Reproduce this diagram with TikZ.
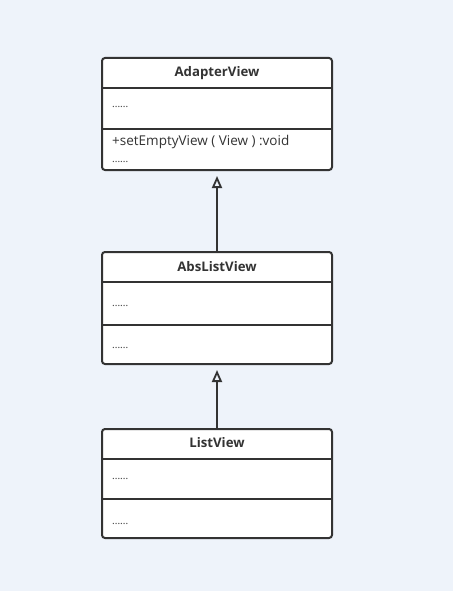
\documentclass[tikz,border=0pt]{standalone}
\usepackage{fontspec}
\setmainfont{Open Sans}
\usetikzlibrary{arrows.meta}
\definecolor{bg}{HTML}{EEF3FA}
\definecolor{ink}{HTML}{333333}
\begin{document}
\begin{tikzpicture}[x=1pt,y=-1pt,
  umlbox/.style={draw=ink,fill=white,line width=2pt,rounded corners=3pt,minimum width=230pt,inner sep=0pt},
  divider/.style={draw=ink,line width=2pt},
  title/.style={font=\fontsize{13.2}{15}\selectfont\bfseries,text=ink},
  member/.style={font=\fontsize{13.5}{15}\selectfont,text=ink,anchor=west,inner sep=0pt},
  dots/.style={font=\fontsize{10}{11}\selectfont,text=ink,anchor=base west,inner sep=0pt},
  inherit/.style={draw=ink,line width=2pt,-{Triangle[open,width=10pt,length=12pt,line width=1.8pt]},shorten >=5pt}]
\useasboundingbox[fill=bg] (0,0) rectangle (453,591);
% AdapterView
\node[umlbox,minimum height=112pt] (a) at (217,114) {};
\draw[divider] (102,88) -- (332,88);
\draw[divider] (102,129) -- (332,129);
\node[title] (at) at (217,73) {AdapterView};
\node[dots] (a1) at (112,107) {......};
\node[member] (a2) at (112,142) {+setEmptyView ( View ) :void};
\node[dots] (a3) at (112,162) {......};
% AbsListView
\node[umlbox,minimum height=112pt] (b) at (217,308) {};
\draw[divider] (102,282) -- (332,282);
\draw[divider] (102,325) -- (332,325);
\node[title] (bt) at (217,267) {AbsListView};
\node[dots] (b1) at (112,306) {......};
\node[dots] (b2) at (112,348) {......};
% ListView
\node[umlbox,minimum height=109pt] (c) at (217,483.5) {};
\draw[divider] (102,459) -- (332,459);
\draw[divider] (102,499) -- (332,499);
\node[title] (ct) at (217,443) {ListView};
\node[dots] (c1) at (112,479) {......};
\node[dots] (c2) at (112,524) {......};
% inheritance
\draw[inherit] (b.north) -- (a.south);
\draw[inherit] (c.north) -- (b.south);
\end{tikzpicture}
\end{document}
